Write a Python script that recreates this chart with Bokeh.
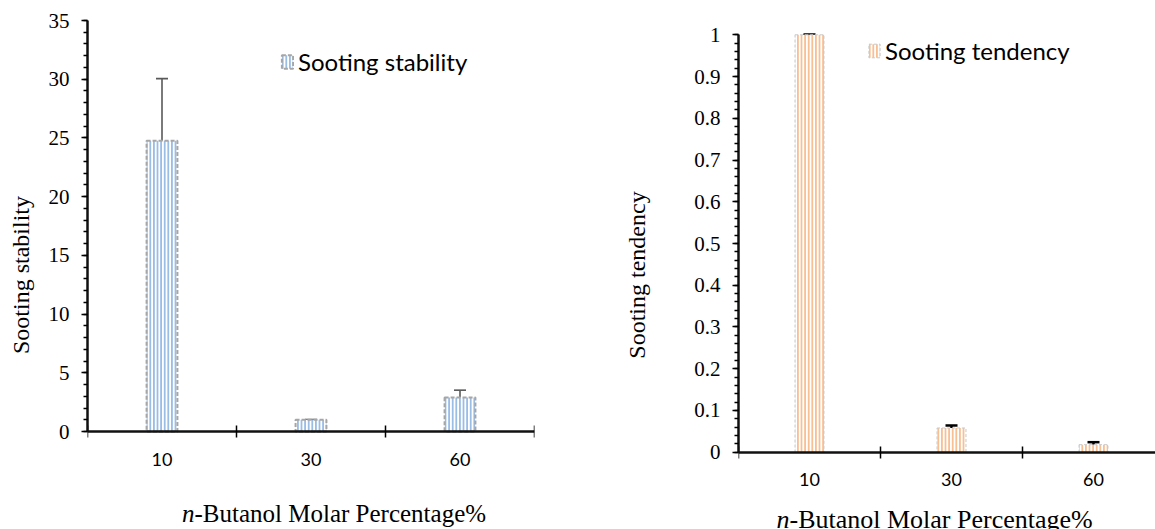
from bokeh.plotting import figure
from bokeh.models import (ColumnDataSource, Range1d, FixedTicker, SingleIntervalTicker,
                          Whisker, TeeHead, Legend, LegendItem, NumeralTickFormatter, Label)
from bokeh.layouts import row
from bokeh.embed import file_html
from bokeh.resources import INLINE

# ---------------- data ----------------
categories = ["10", "30", "60"]
stability = [24.75, 1.0, 2.9]
stability_err = [5.3, 0.02, 0.62]
tendency = [1.0, 0.058, 0.018]
tendency_err = [0.001, 0.006, 0.006]
x_title_italic = "n"
x_title_rest = "-Butanol Molar Percentage%"

SERIF = "Liberation Serif"
SANS = "Lato"

HEIGHT = 529
TOP = 20  # frame top (same for both panels so the row does not realign them)


def make_panel(values, errs, ylabel, legend_label, width, border_lr, x_end,
               y_end, end_px, zero_px, y_interval, hatch_color, outline_color,
               outline_width, outline_dash, err_color, err_width, bar_width,
               tick_font_size, label_standoff, legend_loc, title_pos, title_size):
    xs = [i + 0.5 for i in range(len(categories))]
    src = ColumnDataSource(dict(
        x=xs, top=values,
        upper=[v + e for v, e in zip(values, errs)],
        lower=[v - e for v, e in zip(values, errs)],
    ))
    # pixel layout of the value axis inside a frame that spans TOP..HEIGHT
    px_per = (zero_px - end_px) / y_end
    range_end = y_end + (end_px - TOP) / px_per
    range_start = -(HEIGHT - zero_px) / px_per
    p = figure(width=width, height=HEIGHT, output_backend="svg", toolbar_location=None,
               x_range=Range1d(0, x_end), y_range=Range1d(range_start, range_end),
               min_border_left=border_lr[0], min_border_right=border_lr[1],
               min_border_top=TOP, min_border_bottom=0)
    p.outline_line_color = None
    p.grid.visible = False
    p.background_fill_color = "white"
    p.border_fill_color = "white"

    r = p.vbar(x="x", top="top", width=bar_width, source=src,
               fill_color="white", hatch_pattern="vertical_line", hatch_color=hatch_color,
               hatch_scale=3.6, hatch_weight=2.0,
               line_color=outline_color, line_width=outline_width, line_dash=outline_dash)

    w = Whisker(source=src, base="x", upper="upper", lower="lower",
                line_color=err_color, line_width=err_width,
                upper_head=TeeHead(size=12, line_color=err_color, line_width=err_width),
                lower_head=TeeHead(size=12, line_color=err_color, line_width=err_width))
    p.add_layout(w)

    # x axis at value 0: labels at category centres, ticks at category boundaries
    xa = p.xaxis[0]
    xa.fixed_location = 0
    xa.ticker = FixedTicker(ticks=xs, minor_ticks=list(range(len(categories) + 1)))
    xa.major_label_overrides = {x: c for x, c in zip(xs, categories)}
    xa.major_tick_in = 0
    xa.major_tick_out = 0
    xa.minor_tick_in = 6
    xa.minor_tick_out = 6
    xa.minor_tick_line_color = "black"
    xa.minor_tick_line_width = 1.5
    xa.axis_line_width = 2.5
    xa.axis_line_color = "#111111"
    xa.major_label_standoff = 15
    xa.major_label_text_font = SANS
    xa.major_label_text_font_size = "18px"
    xa.major_label_text_color = "black"

    ya = p.yaxis[0]
    ya.bounds = (0, y_end)
    ya.ticker = SingleIntervalTicker(interval=y_interval, num_minor_ticks=5)
    ya.formatter = NumeralTickFormatter(format="0.[0]")
    ya.major_tick_in = 0
    ya.major_tick_out = 6
    ya.minor_tick_in = 0
    ya.minor_tick_out = 4
    ya.major_tick_line_width = 1.5
    ya.minor_tick_line_width = 1.5
    ya.axis_line_width = 2.5
    ya.axis_line_color = "#111111"
    ya.major_label_standoff = 12
    ya.major_label_text_font = SERIF
    ya.major_label_text_font_size = tick_font_size
    ya.major_label_text_color = "black"
    ya.axis_label = ylabel
    ya.axis_label_text_font = SERIF
    ya.axis_label_text_font_style = "normal"
    ya.axis_label_text_font_size = "24px"
    ya.axis_label_text_color = "black"
    ya.axis_label_standoff = label_standoff

    legend = Legend(items=[LegendItem(label=legend_label, renderers=[r])],
                    location=legend_loc, background_fill_alpha=0, border_line_color=None,
                    padding=0, margin=0, spacing=0, label_standoff=4,
                    glyph_width=14, glyph_height=17,
                    label_text_font=SANS, label_text_font_size="24px",
                    label_text_color="black")
    p.add_layout(legend, "center")

    tx, ty = title_pos
    p.add_layout(Label(x=tx, y=ty, x_units="screen", y_units="screen", text=x_title_italic,
                       text_font=SERIF, text_font_style="italic", text_font_size=title_size,
                       text_align="right", text_baseline="alphabetic", text_color="black"))
    p.add_layout(Label(x=tx, y=ty, x_units="screen", y_units="screen", text=x_title_rest,
                       text_font=SERIF, text_font_style="normal", text_font_size=title_size,
                       text_align="left", text_baseline="alphabetic", text_color="black"))
    return p


left = make_panel(stability, stability_err, "Sooting stability", "Sooting stability",
                  width=590, border_lr=(87, 56), x_end=3, y_end=35,
                  end_px=20, zero_px=431, y_interval=5, hatch_color="#9ABDE6",
                  outline_color="#A6A6A6", outline_width=2, outline_dash="4 2",
                  err_color="#595959", err_width=1.6, bar_width=0.207,
                  tick_font_size="21px", label_standoff=12,
                  legend_loc=(193, 453), title_pos=(107, 16), title_size="25px")

right = make_panel(tendency, tendency_err, "Sooting tendency", "Sooting tendency",
                   width=565, border_lr=(148, 0), x_end=417 / 142, y_end=1,
                   end_px=34.3, zero_px=451.7, y_interval=0.1, hatch_color="#F8BF93",
                   outline_color="#C9C9C9", outline_width=1, outline_dash="3 2",
                   err_color="black", err_width=2.5, bar_width=0.204,
                   tick_font_size="21px", label_standoff=41,
                   legend_loc=(129, 464), title_pos=(51, 10), title_size="26px")

layout = row(left, right, spacing=0)
open("out.html", "w").write(file_html(layout, INLINE))
